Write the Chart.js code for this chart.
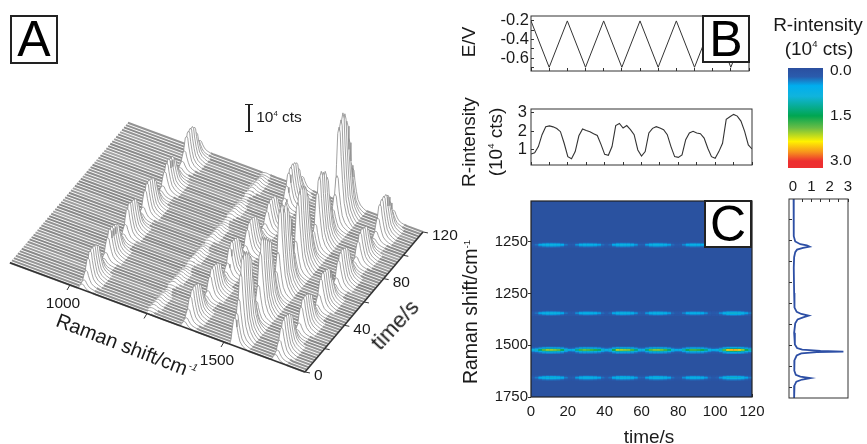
<!DOCTYPE html>
<html>
<head>
<meta charset="utf-8">
<style>
  html, body { margin: 0; background: #fff; }
  #page { position: relative; width: 867px; height: 444px; overflow: hidden; font-family: "Liberation Sans", Arial, sans-serif; color: #1a1a1a; filter: blur(0.4px); }
  canvas { position: absolute; left: 0; top: 0; }
  .txt { position: absolute; white-space: nowrap; transform: translate(-50%, -50%); font-size: 19px; line-height: 1; }
  .box { position: absolute; box-sizing: border-box; border: 2px solid #222; background: #fff; font-size: 50px; line-height: 44px; text-align: center; color: #000; }
  sup { font-size: 0.5em; line-height: 0; }
</style>
</head>
<body>
<div id="page">
  <canvas id="waterfall" width="867" height="444"></canvas>
  <canvas id="potential" width="867" height="444"></canvas>
  <canvas id="trace" width="867" height="444"></canvas>
  <canvas id="heat" width="867" height="444"></canvas>
  <canvas id="colorbar" width="867" height="444"></canvas>
  <canvas id="spectrum" width="867" height="444"></canvas>

  <div class="box" style="left:10px;top:15px;width:48px;height:49px">A</div>
  <div class="box" style="left:702px;top:15px;width:48px;height:48px">B</div>
  <div class="box" style="left:704px;top:200px;width:48px;height:48px">C</div>

  <div class="txt" style="left:122px;top:344px;font-size:20px;transform:translate(-50%,-50%) rotate(21deg)">Raman shift/cm</div>
  <div class="txt" style="left:193px;top:367px;font-size:10px;font-style:italic;transform:translate(-50%,-50%) rotate(21deg)">-1</div>
  <div class="txt" style="left:395px;top:325px;font-size:22px;transform:translate(-50%,-50%) rotate(-47deg)">time/s</div>
  <div style="position:absolute;left:248px;top:105px;width:2px;height:26px;background:#222"></div>
  <div style="position:absolute;left:245px;top:104px;width:8px;height:1px;background:#222"></div>
  <div style="position:absolute;left:245px;top:131px;width:8px;height:1px;background:#222"></div>
  <div class="txt" style="left:279px;top:117px;font-size:15.5px">10<sup>4</sup> cts</div>

  <div class="txt" style="left:468px;top:42px;transform:translate(-50%,-50%) rotate(-90deg)">E/V</div>
  <div class="txt" style="left:468px;top:142px;transform:translate(-50%,-50%) rotate(-90deg)">R-intensity</div>
  <div class="txt" style="left:495px;top:142px;transform:translate(-50%,-50%) rotate(-90deg)">(10<sup>4</sup> cts)</div>
  <div class="txt" style="left:471px;top:312px;font-size:19.5px;transform:translate(-50%,-50%) rotate(-90deg)">Raman shift/cm<sup>-1</sup></div>
  <div class="txt" style="left:649px;top:436px">time/s</div>
  <div class="txt" style="left:818px;top:24px">R-intensity</div>
  <div class="txt" style="left:819px;top:48px">(10<sup>4</sup> cts)</div>
</div>

<script src="https://cdn.jsdelivr.net/npm/chart.js@4"></script>
<script>
// time axis of the traces, one sample every 2 s
const traceTimes = [0,2,4,6,8,10,12,14,16,18,20,22,24,26,28,30,32,34,36,38,40,42,44,46,48,50,52,54,56,58,60,62,64,66,68,70,72,74,76,78,80,82,84,86,88,90,92,94,96,98,100,102,104,106,108,110,112,114,116,118,120];

// panel B, bottom: R-intensity against time, also the main band of A and C
const band1520 = [0.78,0.85,1.18,1.82,2.25,2.29,2.24,2.15,1.98,1.36,0.64,0.53,0.91,1.76,2.13,2.05,1.98,1.87,1.78,1.3,0.76,0.71,1.18,2.31,2.42,2.18,2.31,2.09,1.82,1.0,0.67,0.91,1.91,2.16,2.25,2.18,2.09,1.82,1.18,0.64,0.6,0.73,1.55,1.91,2.0,1.91,1.87,1.64,1.09,0.64,0.55,0.91,1.36,2.64,2.78,2.91,2.82,2.55,2.0,1.27,1.05];
const band1020 = [0.15,0.2,0.4,0.68,0.82,0.85,0.84,0.8,0.72,0.45,0.2,0.15,0.25,0.6,0.78,0.78,0.76,0.72,0.65,0.38,0.2,0.18,0.38,0.75,0.86,0.82,0.82,0.78,0.62,0.3,0.18,0.28,0.68,0.82,0.85,0.82,0.78,0.65,0.38,0.18,0.15,0.22,0.55,0.72,0.78,0.74,0.72,0.58,0.32,0.16,0.14,0.25,0.48,0.82,0.9,0.92,0.9,0.82,0.6,0.32,0.25];
const band1350 = [0.16,0.2,0.38,0.66,0.8,0.84,0.82,0.78,0.68,0.42,0.2,0.16,0.24,0.58,0.74,0.76,0.74,0.7,0.62,0.36,0.2,0.18,0.36,0.72,0.84,0.82,0.8,0.76,0.6,0.3,0.18,0.26,0.64,0.78,0.82,0.8,0.76,0.62,0.36,0.18,0.16,0.22,0.5,0.68,0.72,0.7,0.68,0.56,0.3,0.16,0.15,0.28,0.56,0.86,0.95,0.98,0.95,0.88,0.66,0.36,0.3];
const band1657 = [0.18,0.24,0.45,0.74,0.9,0.94,0.92,0.88,0.78,0.48,0.22,0.16,0.28,0.66,0.84,0.86,0.84,0.78,0.7,0.4,0.22,0.2,0.42,0.8,0.92,0.9,0.88,0.84,0.66,0.32,0.2,0.3,0.72,0.88,0.92,0.88,0.84,0.7,0.4,0.2,0.16,0.24,0.6,0.78,0.84,0.8,0.78,0.62,0.34,0.18,0.16,0.3,0.6,0.92,1.0,1.02,1.0,0.92,0.68,0.36,0.3];

// panel B, top: triangular potential sweep
const sweepTimes = [0,10,20,30,40,50,60,70,80,90,100,110,120];
const sweepValues = [-0.2,-0.7,-0.2,-0.7,-0.2,-0.7,-0.2,-0.7,-0.2,-0.7,-0.2,-0.7,-0.2];

// panel A: peak positions and the shape of a peak around them
const ridgeCenters = [1040,1255,1372,1535,1668];
const ridgeGain = [1,0.1,1,1,1];
const ridgeBands = [band1020,band1020,band1350,band1520,band1657];
const shapeOffsets = [-22,-16,-12,-8,-4,0,4,7,12,17,25,34,44];
const shapeWeights = [0,0.03,0.2,0.6,0.93,1,0.95,0.7,0.42,0.22,0.1,0.04,0];
const waterfallShiftRange = [805,1763];
const shiftTicks = [1000,1250,1500];
const shiftTickLabels = ['1000','','1500'];
const timeTicks = [0,20,40,60,80,100,120];
const timeTickLabels = ['0','','40','','80','','120'];
// grey of the flat part of each spectrum, the plane in A is streaky
const sliceGrey = [156,148,144,152,138,146,138,154,160,148,140,136,146,158,150,138,144,154,148,136,134,148,164,146,138,136,144,160,148,138,140,152,162,142,138,134,140,158,146,142,148,138,136,154,160,146,138,148,166,148,140,138,146,156,144,140,164,148,138,146,148];

// panel C rows
const heatRowShifts = [1006,1010,1013,1016,1019,1022,1026, 1336,1340,1343,1346,1349,1352,1356, 1510,1514,1518,1521,1524,1527,1530,1534,1538, 1648,1652,1655,1658,1661,1664,1668];
const heatRowWeights = [0.3,0.55,0.85,1,0.85,0.55,0.3, 0.3,0.55,0.85,1,0.85,0.55,0.3, 0.18,0.28,0.5,0.85,1,0.85,0.5,0.28,0.18, 0.3,0.55,0.85,1,0.85,0.55,0.3];
const heatRowBands = [0,0,0,0,0,0,0, 2,2,2,2,2,2,2, 3,3,3,3,3,3,3,3,3, 4,4,4,4,4,4,4];
const heatYTicks = [1000,1250,1500,1750];
const heatYLabels = ['1250','1250','1500','1750'];

// colour bar
const colorStops = [[-0.1,'#2b4f9f'],[0.2,'#2a5cad'],[0.5,'#00aeef'],[0.85,'#10b4dc'],[1.5,'#00a651'],[1.9,'#6abd45'],[2.35,'#fff200'],[2.7,'#f7941d'],[3.0,'#ed2f30']];
const colorbarTicks = [0,1.5,3];

// side spectrum (right of C)
const sideShifts = [803,900,980,1005,1018,1024,1030,1036,1044,1056,1080,1130,1250,1320,1340,1350,1358,1366,1376,1395,1440,1495,1512,1520,1526,1529,1532,1538,1548,1570,1620,1640,1648,1655,1662,1672,1690,1750];
const sideValues = [0.03,0.03,0.05,0.12,0.4,0.75,0.9,0.55,0.22,0.12,0.06,0.04,0.06,0.08,0.2,0.45,0.85,0.55,0.25,0.12,0.06,0.1,0.22,0.5,1.5,2.75,1.3,0.45,0.2,0.08,0.07,0.15,0.4,0.95,0.5,0.18,0.08,0.06];

const FONT = '"Liberation Sans", Arial, sans-serif';
const INK = '#333';
const GUTTER = {left: 60, right: 46, top: 22, bottom: 30};

Chart.defaults.animation = false;
Chart.defaults.responsive = false;
Chart.defaults.font.family = FONT;
Chart.defaults.color = '#1a1a1a';
Chart.defaults.plugins.legend.display = false;
Chart.defaults.plugins.tooltip.enabled = false;

// every visible axis gets a fixed gutter so the plot boxes land where they should
function fixedAxis(scale) {
    const size = scale.options.display ? GUTTER[scale.options.position] : 0;
    if (scale.isHorizontal()) scale.height = size; else scale.width = size;
}

function axis(opts) {
    const tickLen = opts.tickLen === undefined ? -3 : opts.tickLen;
    return {
        type: 'linear',
        position: opts.position,
        min: opts.min,
        max: opts.max,
        reverse: !!opts.reverse,
        display: opts.display === undefined ? true : opts.display,
        afterFit: fixedAxis,
        afterBuildTicks: opts.values ? function(scale) { scale.ticks = opts.values.map(v => ({value: v})); } : undefined,
        border: {display: false},
        grid: {drawOnChartArea: false, drawTicks: true, tickLength: tickLen, color: opts.tickColor || INK, lineWidth: 1},
        ticks: {
            autoSkip: false,
            maxRotation: 0,
            padding: (opts.pad === undefined ? 5 : opts.pad) - tickLen,
            font: {size: opts.fontSize || 15},
            callback: opts.labels || function() { return ''; }
        }
    };
}

const framePlugin = {
    id: 'frame',
    beforeDatasetsDraw(chart, args, o) {
        const a = chart.chartArea;
        if (o.fill) {
            chart.ctx.fillStyle = o.fill;
            chart.ctx.fillRect(a.left, a.top, a.width, a.height);
        }
    },
    afterDraw(chart, args, o) {
        const a = chart.chartArea, ctx = chart.ctx;
        ctx.save();
        ctx.strokeStyle = o.color || INK;
        ctx.lineWidth = o.width || 1;
        ctx.strokeRect(a.left, a.top, a.width, a.height);
        ctx.restore();
    }
};
Chart.register(framePlugin);

function panel(id, box, datasets, scales, extra) {
    const padding = {left: box[0], top: box[1], right: 867 - box[2], bottom: 444 - box[3]};
    Object.values(scales).forEach(s => {
        if (s.display) padding[s.position] -= GUTTER[s.position];
    });
    return new Chart(document.getElementById(id), {
        type: 'line',
        data: {datasets: datasets},
        options: {
            parsing: false,
            normalized: true,
            layout: {padding: padding},
            elements: {point: {radius: 0}, line: {tension: 0}},
            scales: scales,
            plugins: Object.assign({frame: (extra && extra.frame) || {}, filler: {propagate: false}}, extra && extra.plugins)
        },
        plugins: (extra && extra.inline) || []
    });
}

function pairs(xs, ys) {
    return xs.map((x, i) => ({x: x, y: ys[i]}));
}

/* ---------- A: waterfall, an oblique projection on hidden screen scales ---------- */
function projectX(shift, time) { return 70 + (shift - 1000) * 0.308 + time * 0.983; }
function projectY(shift, time, level) { return 285 + (shift - 1000) * 0.114 - time * 1.167 - level * 36; }

const waterfallShifts = [waterfallShiftRange[0]];
const waterfallRidge = [-1], waterfallWeight = [0];
ridgeCenters.forEach((c, r) => {
    shapeOffsets.forEach((off, k) => {
        waterfallShifts.push(c + off);
        waterfallRidge.push(r);
        waterfallWeight.push(shapeWeights[k]);
    });
});
waterfallShifts.push(waterfallShiftRange[1]);
waterfallRidge.push(-1);
waterfallWeight.push(0);

const waterfallSets = [];
traceTimes.forEach((t, j) => {
    const levels = waterfallShifts.map((s, k) => {
        const r = waterfallRidge[k];
        return r < 0 ? 0 : waterfallWeight[k] * ridgeBands[r][j] * ridgeGain[r];
    });
    const grey = sliceGrey[j];
    const flatColor = 'rgb(' + grey + ',' + grey + ',' + grey + ')';
    const isFlat = c => levels[c.p0DataIndex] + levels[c.p1DataIndex] < 0.02;
    waterfallSets.push({
        data: waterfallShifts.map((s, k) => ({x: projectX(s, t), y: projectY(s, t, levels[k])})),
        borderColor: '#8a8a8a',
        borderWidth: 0.8,
        fill: '+1',
        backgroundColor: '#ffffff',
        segment: {
            borderColor: c => isFlat(c) ? flatColor : '#8a8a8a',
            borderWidth: c => isFlat(c) ? 2 : 0.8
        }
    });
    waterfallSets.push({
        data: waterfallShifts.map(s => ({x: projectX(s, t), y: projectY(s, t, 0)})),
        borderWidth: 0, borderColor: 'transparent', fill: false
    });
});
// edges of the box, front on top of everything
waterfallSets.unshift({
    data: [
        {x: projectX(waterfallShiftRange[0], 0), y: projectY(waterfallShiftRange[0], 0, 0)},
        {x: projectX(waterfallShiftRange[1], 0), y: projectY(waterfallShiftRange[1], 0, 0)}
    ],
    borderColor: '#333', borderWidth: 1.6, fill: false
});
waterfallSets.unshift({
    data: [
        {x: projectX(waterfallShiftRange[1], 0), y: projectY(waterfallShiftRange[1], 0, 0)},
        {x: projectX(waterfallShiftRange[1], 120), y: projectY(waterfallShiftRange[1], 120, 0)}
    ],
    borderColor: '#333', borderWidth: 1.6, fill: false
});

const waterfallAxes = {
    id: 'waterfallAxes',
    afterDatasetsDraw(chart) {
        const ctx = chart.ctx, sx = chart.scales.x, sy = chart.scales.y;
        ctx.save();
        ctx.strokeStyle = '#333';
        ctx.lineWidth = 1;
        ctx.fillStyle = '#1a1a1a';
        ctx.font = '15.5px ' + FONT;
        shiftTicks.forEach((s, i) => {
            const px = sx.getPixelForValue(projectX(s, 0)), py = sy.getPixelForValue(projectY(s, 0, 0));
            ctx.beginPath();
            ctx.moveTo(px, py);
            ctx.lineTo(px - 3, py + 5);
            ctx.stroke();
            ctx.textAlign = 'center';
            ctx.textBaseline = 'middle';
            ctx.fillText(shiftTickLabels[i], px - 7, py + 19);
        });
        const end = waterfallShiftRange[1];
        timeTicks.forEach((t, i) => {
            const px = sx.getPixelForValue(projectX(end, t)), py = sy.getPixelForValue(projectY(end, t, 0));
            ctx.beginPath();
            ctx.moveTo(px, py);
            ctx.lineTo(px + 5, py + 1);
            ctx.stroke();
            ctx.textAlign = 'left';
            ctx.textBaseline = 'middle';
            ctx.fillText(timeTickLabels[i], px + 9, py + 4);
        });
        ctx.restore();
    }
};

panel('waterfall', [0, 0, 867, 444], waterfallSets, {
    x: axis({position: 'bottom', min: 0, max: 867, display: false}),
    y: axis({position: 'left', min: 0, max: 444, reverse: true, display: false})
}, {frame: {color: 'transparent'}, inline: [waterfallAxes]});

/* ---------- B: potential and intensity against time ---------- */
panel('potential', [531, 16, 749, 71], [
    {data: pairs(sweepTimes, sweepValues), borderColor: '#333', borderWidth: 1, fill: false}
], {
    x: axis({position: 'bottom', min: 0, max: 120, values: sweepTimes}),
    y: axis({
        position: 'left', min: -0.74, max: -0.147, values: [-0.2,-0.3,-0.4,-0.5,-0.6,-0.7],
        fontSize: 16.5, pad: 2,
        labels: function(v) { return {'-0.2':'-0.2','-0.4':'-0.4','-0.6':'-0.6'}[v.toFixed(1)] || ''; }
    })
});

panel('trace', [531, 109, 752, 165], [
    {data: pairs(traceTimes, band1520), borderColor: '#333', borderWidth: 1.1, fill: false}
], {
    x: axis({position: 'bottom', min: 0, max: 120, values: sweepTimes}),
    y: axis({
        position: 'left', min: 0.19, max: 3.2, values: [1,2,3], fontSize: 16.5, pad: 4,
        labels: function(v) { return String(v); }
    })
});

/* ---------- C: intensity map, one coloured line per row ---------- */
function heatColor(value) {
    if (value <= colorStops[0][0]) return colorStops[0][1];
    for (let i = 1; i < colorStops.length; i++) {
        if (value <= colorStops[i][0]) {
            const a = colorStops[i - 1], b = colorStops[i];
            const f = (value - a[0]) / (b[0] - a[0]);
            const ca = parseInt(a[1].slice(1), 16), cb = parseInt(b[1].slice(1), 16);
            const ch = s => Math.round(((ca >> s) & 255) * (1 - f) + ((cb >> s) & 255) * f);
            return 'rgb(' + ch(16) + ',' + ch(8) + ',' + ch(0) + ')';
        }
    }
    return colorStops[colorStops.length - 1][1];
}

const heatBandOrder = [band1020, band1020, band1350, band1520, band1657];
const heatSets = heatRowShifts.map((s, k) => {
    const band = heatBandOrder[heatRowBands[k]];
    const vals = band.map(v => v * heatRowWeights[k]);
    return {
        data: traceTimes.map(t => ({x: t, y: s})),
        borderWidth: 1.1,
        borderCapStyle: 'butt',
        borderColor: '#2a5cad',
        fill: false,
        segment: {
            borderColor: c => heatColor((vals[c.p0DataIndex] + vals[c.p1DataIndex]) / 2)
        }
    };
}).reverse();

panel('heat', [531, 201, 752, 397], heatSets, {
    x: axis({
        position: 'bottom', min: 0, max: 120, values: [0,10,20,30,40,50,60,70,80,90,100,110,120],
        pad: 6, fontSize: 15,
        labels: function(v) { return v % 20 === 0 ? String(v) : ''; }
    }),
    y: axis({
        position: 'left', min: 803, max: 1750, reverse: true, values: heatYTicks, tickLen: 3, pad: 3, fontSize: 15,
        labels: function(v) { return heatYLabels[heatYTicks.indexOf(v)]; }
    })
}, {frame: {fill: '#2a52a0', color: '#222', width: 1.2}});

/* ---------- colour bar ---------- */
panel('colorbar', [788, 68, 823, 168], [], {
    x: axis({position: 'bottom', min: 0, max: 1, display: false}),
    y: axis({
        position: 'right', min: -0.09, max: 3.23, reverse: true, values: colorbarTicks, tickLen: 0, pad: 7, fontSize: 15.5, tickColor: 'transparent',
        labels: function(v) { return v.toFixed(1); }
    })
}, {
    frame: {color: 'transparent'},
    inline: [{
        id: 'colorRamp',
        beforeDatasetsDraw(chart) {
            const a = chart.chartArea, sy = chart.scales.y, ctx = chart.ctx;
            const g = ctx.createLinearGradient(0, a.top, 0, a.bottom);
            colorStops.forEach(st => {
                const f = (sy.getPixelForValue(st[0]) - a.top) / a.height;
                g.addColorStop(Math.min(1, Math.max(0, f)), st[1]);
            });
            ctx.fillStyle = g;
            ctx.fillRect(a.left, a.top, a.width, a.height);
        }
    }]
});

/* ---------- side spectrum ---------- */
panel('spectrum', [789, 199, 848, 398], [
    {data: pairs(sideValues, sideShifts), borderColor: '#2d4fa5', borderWidth: 1.8, fill: false, indexAxis: 'y'}
], {
    x: axis({
        position: 'top', min: -0.22, max: 3, values: [0,0.5,1,1.5,2,2.5,3], pad: 3, fontSize: 15,
        labels: function(v) { return Number.isInteger(v) ? String(v) : ''; }
    }),
    y: axis({position: 'left', min: 803, max: 1750, reverse: true, values: [900,1000,1100,1200,1300,1400,1500,1600,1700]})
});
</script>
</body>
</html>
